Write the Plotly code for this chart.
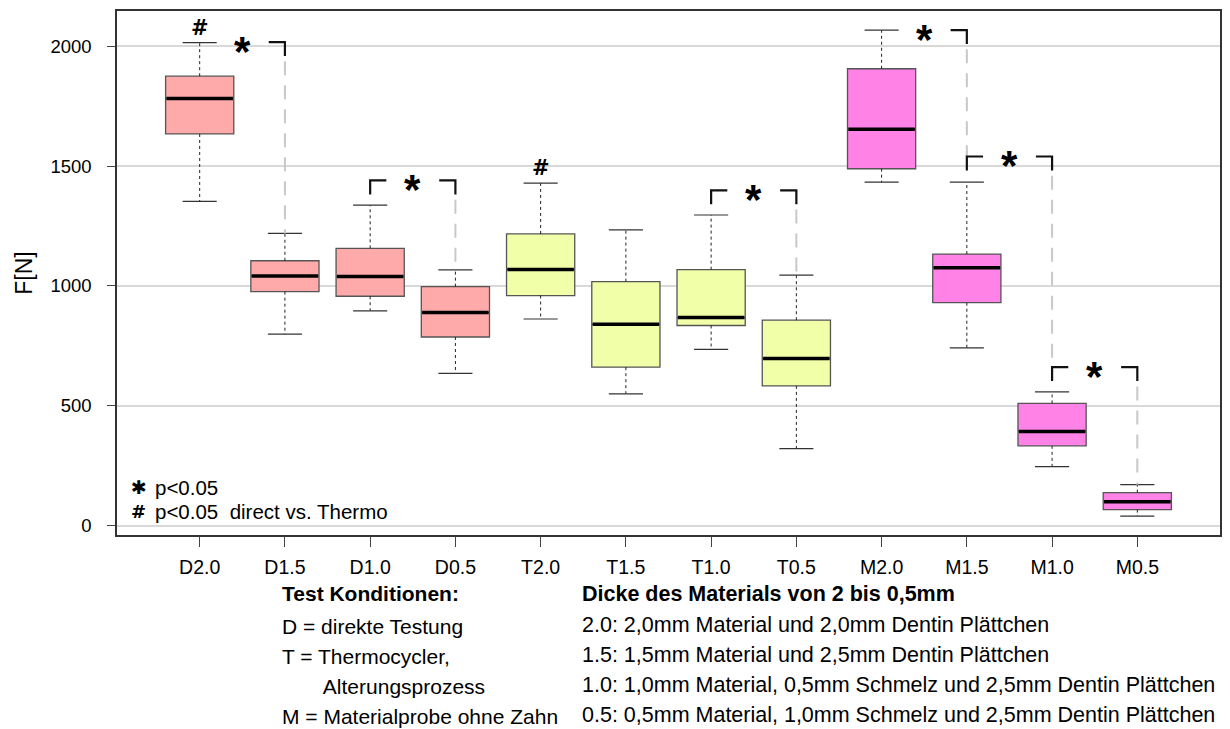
import plotly.graph_objects as go

# ---------------- data ----------------
categories = ["D2.0", "D1.5", "D1.0", "D0.5", "T2.0", "T1.5", "T1.0", "T0.5",
              "M2.0", "M1.5", "M1.0", "M0.5"]
groups = ["D", "D", "D", "D", "T", "T", "T", "T", "M", "M", "M", "M"]
lower_whisker = [1353, 799, 896, 635, 862, 550, 735, 321, 1433, 742, 246, 40]
q1_values = [1634, 976, 957, 787, 960, 661, 835, 583, 1489, 930, 333, 67]
median_values = [1782, 1042, 1039, 889, 1069, 840, 868, 697, 1654, 1076, 393, 100]
q3_values = [1875, 1105, 1157, 997, 1217, 1018, 1068, 857, 1906, 1133, 510, 138]
upper_whisker = [2015, 1219, 1337, 1067, 1429, 1234, 1296, 1045, 2067, 1433, 558, 171]

group_colors = {"D": "#FFAAAA", "T": "#F0FFA8", "M": "#FF82E6"}

# significance brackets: (left category, right category, height, left piece drawn)
bracket_left = ["D2.0", "D1.0", "T1.0", "M2.0", "M1.5", "M1.0"]
bracket_right = ["D1.5", "D0.5", "T0.5", "M1.5", "M1.0", "M0.5"]
bracket_height = [2017, 1440, 1399, 2067, 1540, 661]
bracket_left_piece = [False, True, True, False, True, True]

hash_categories = ["D2.0", "T2.0"]
hash_heights = [2078, 1494]

yticks = [0, 500, 1000, 1500, 2000]

legend_lines = ["\u2731", "<b>#</b>"]
legend_texts = ["p<0.05", "p<0.05  direct vs. Thermo"]

cond_title = "<b>Test Konditionen:</b>"
cond_lines = ["D = direkte Testung", "T = Thermocycler,", "      Alterungsprozess",
              "M = Materialprobe ohne Zahn"]
thick_title = "<b>Dicke des Materials von 2 bis 0,5mm</b>"
thick_lines = ["2.0: 2,0mm Material und 2,0mm Dentin Plättchen",
               "1.5: 1,5mm Material und 2,5mm Dentin Plättchen",
               "1.0: 1,0mm Material, 0,5mm Schmelz und 2,5mm Dentin Plättchen",
               "0.5: 0,5mm Material, 1,0mm Schmelz und 2,5mm Dentin Plättchen"]

# ---------------- figure ----------------
OFF = 8  # page body margin
W, H = 1230 - OFF, 729 - OFF
ml, mt = 117 - OFF, 10.5 - OFF
mr = W - (1220 - OFF)
mb = H - (535 - OFF)
xs = list(range(len(categories)))
idx = {c: i for i, c in enumerate(categories)}
BOXW = 0.8
CAPW = 0.2

fig = go.Figure()

# whiskers (dashed)
wx, wy = [], []
for i in xs:
    wx += [i, i, None, i, i, None]
    wy += [q3_values[i], upper_whisker[i], None, q1_values[i], lower_whisker[i], None]
fig.add_trace(go.Scatter(x=wx, y=wy, mode="lines", line=dict(color="#222", width=1, dash="3px,3px"),
                         hoverinfo="skip", showlegend=False))
# caps
cx, cy = [], []
for i in xs:
    for v in (upper_whisker[i], lower_whisker[i]):
        cx += [i - CAPW, i + CAPW, None]
        cy += [v, v, None]
fig.add_trace(go.Scatter(x=cx, y=cy, mode="lines", line=dict(color="#333", width=1.2),
                         hoverinfo="skip", showlegend=False))

# boxes
for g in ["D", "T", "M"]:
    ii = [i for i in xs if groups[i] == g]
    fig.add_trace(go.Box(
        x=ii,
        q1=[q1_values[i] for i in ii],
        median=[median_values[i] for i in ii],
        q3=[q3_values[i] for i in ii],
        lowerfence=[q1_values[i] for i in ii],
        upperfence=[q3_values[i] for i in ii],
        width=BOXW, fillcolor=group_colors[g],
        line=dict(color="#555555", width=1.3),
        whiskerwidth=0, hoverinfo="skip", showlegend=False,
    ))

# medians
mx, my = [], []
for i in xs:
    mx += [i - BOXW / 2 + 0.01, i + BOXW / 2 - 0.01, None]
    my += [median_values[i], median_values[i], None]
fig.add_trace(go.Scatter(x=mx, y=my, mode="lines", line=dict(color="#000", width=3.5),
                         hoverinfo="skip", showlegend=False))

# brackets
DROP = 58
ARM = 0.19
GAP = 80
bx, by, gx, gy = [], [], [], []
annotations = []
for L, R, h, lp in zip(bracket_left, bracket_right, bracket_height, bracket_left_piece):
    li, ri = idx[L], idx[R]
    if lp:
        bx += [li, li, li + ARM, None]
        by += [h - DROP, h, h, None]
    bx += [ri - ARM, ri, ri, None]
    by += [h, h, h - DROP, None]
    # grey dashed guide down to the next element of the right box
    below = [hh for LL, hh in zip(bracket_left, bracket_height) if LL == R and hh < h]
    end = max([upper_whisker[ri]] + below)
    gx += [ri, ri, None]
    gy += [h - GAP, end, None]
    annotations.append(dict(x=(li + ri) / 2, y=h, xref="x", yref="y", text="<b>*</b>",
                            showarrow=False, font=dict(size=42, color="#000", family="Liberation Sans"),
                            yanchor="middle", yshift=-9))
fig.add_trace(go.Scatter(x=gx, y=gy, mode="lines", line=dict(color="#c8c8c8", width=2, dash="14px,10px"),
                         hoverinfo="skip", showlegend=False))
fig.add_trace(go.Scatter(x=bx, y=by, mode="lines", line=dict(color="#111", width=2.2),
                         hoverinfo="skip", showlegend=False))

for c, h in zip(hash_categories, hash_heights):
    annotations.append(dict(x=idx[c], y=h, xref="x", yref="y", text="<b>#</b>", showarrow=False,
                            font=dict(size=21, color="#000", family="DejaVu Sans"), yanchor="middle"))

# legend text inside plot
plot_w = W - ml - mr
plot_h = H - mt - mb
leg_y = [161, 61]
for sym, txt, yy in zip(legend_lines, legend_texts, leg_y):
    annotations.append(dict(x=(129 - 117) / plot_w, y=yy, xref="paper", yref="y", text=sym, showarrow=False,
                            xanchor="left", yanchor="middle",
                            font=dict(size=19 if "#" not in sym else 18, family="DejaVu Sans", color="#000")))
    annotations.append(dict(x=(153 - 117) / plot_w, y=yy, xref="paper", yref="y", text=txt, showarrow=False,
                            xanchor="left", yanchor="middle",
                            font=dict(size=20.5, color="#000", family="Liberation Sans")))


# bottom explanatory text
def px2paper(px, py):
    return (px - OFF - ml) / plot_w, (H - mb - (py - OFF)) / plot_h


fam = "Liberation Sans Narrow, Arial Narrow, Liberation Sans"
left_rows = [cond_title] + cond_lines
left_y = [594, 627, 657, 687, 717]
for t, py in zip(left_rows, left_y):
    xx, yy = px2paper(280, py)
    annotations.append(dict(x=xx, y=yy, xref="paper", yref="paper", text=t.replace("      ", "&nbsp;" * 7),
                            showarrow=False, xanchor="left", yanchor="middle",
                            font=dict(size=21, color="#000", family=fam)))
right_rows = [thick_title] + thick_lines
right_y = [594, 625, 655, 685, 715]
for t, py in zip(right_rows, right_y):
    xx, yy = px2paper(580, py)
    annotations.append(dict(x=xx, y=yy, xref="paper", yref="paper", text=t,
                            showarrow=False, xanchor="left", yanchor="middle",
                            font=dict(size=21.5, color="#000", family=fam)))

fig.update_layout(
    width=W, height=H,
    margin=dict(l=ml, r=mr, t=mt, b=mb),
    paper_bgcolor="white", plot_bgcolor="white",
    font=dict(family="Liberation Sans, Arial", color="#000"),
    annotations=annotations,
    showlegend=False,
)
fig.update_xaxes(
    range=[-0.97, 11.97], tickmode="array", tickvals=xs, ticktext=categories,
    ticks="outside", ticklen=10, tickwidth=1.2, tickcolor="#444",
    showgrid=False, zeroline=False, showline=True, linecolor="#333", linewidth=1.5, mirror=True,
    tickfont=dict(size=19.5), ticklabelstandoff=4,
)
fig.update_yaxes(
    range=[-39, 2147], tickmode="array", tickvals=yticks, ticktext=[str(v) for v in yticks],
    ticks="outside", ticklen=8, tickwidth=1.2, tickcolor="#444",
    showgrid=True, gridcolor="#d9d9d9", gridwidth=2, zeroline=False,
    showline=True, linecolor="#333", linewidth=1.5, mirror=True,
    tickfont=dict(size=18.5), ticklabelstandoff=12,
    title=dict(text="F[N]", font=dict(size=23), standoff=11),
)

fig.write_html("out.html")
